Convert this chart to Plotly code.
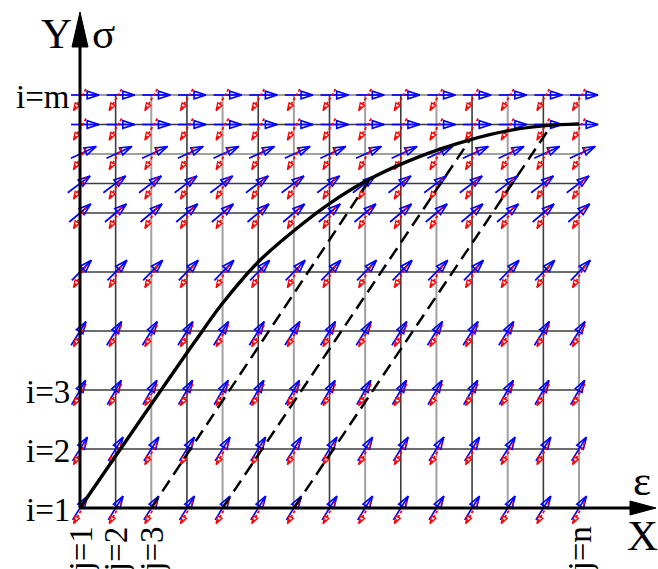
import math
import plotly.graph_objects as go

W, H = 658, 569

# ---------------- data ----------------
eps_cols = list(range(15))                      # j = 1 .. n
sigma_rows = [0, 1, 2, 3, 4, 5, 5.5, 6, 6.5, 7]  # i = 1 .. m
tangent_deg = [58, 58, 60, 58, 46, 40, 37, 25, 0, 0]   # blue arrow direction per row

curve_eps = [0, 3.2, 4.0, 5.0, 6.0, 7.0, 8.14, 9.54, 10.94, 12.06, 13.07, 14.0]
curve_sig = [0, 2.80, 3.47, 4.17, 4.70, 5.16, 5.58, 5.96, 6.24, 6.40, 6.48, 6.51]

unload_eps0 = [2, 4, 6]
unload_eps1 = [8.14, 10.94, 13.23]
unload_sig1 = [5.58, 6.24, 6.49]

i_labels = ["i=1", "i=2", "i=3", "i=m"]
i_label_rows = [0, 1, 2, 7]
j_labels = ["j=1", "j=2", "j=3", "j=n"]
j_label_cols = [0, 1, 2, 14]

# ---------------- layout constants ----------------
OX, OY = 80.0, 508.0          # origin in pixels
PX_X, PX_Y = 35.643, 59.0     # pixels per data unit
XR = [-OX / PX_X, (W - OX) / PX_X]
YR = [-(H - OY) / PX_Y, OY / PX_Y]


def dx(p):
    return p / PX_X


def dy(p):
    return p / PX_Y


def px_to_data(px, py):
    return (px - OX) / PX_X, (OY - py) / PX_Y


BLUE = "#0000ff"
RED = "#ff0000"
DARK = "#3c3c3c"
GRAY = "#a0a0a0"
blue_back = [0.5, 0.5, 0.6, 0.6, 0.42, 0.5, 0.55, 0.36, 0.32, 0.32]
row_dark = [True, True, True, True, True, True, True, False, True, False]
BL = 28.0   # blue arrow length px
RL = 25.0   # red arrow length px
RED_DEG = 60.0

fig = go.Figure()

# ---------------- grid ----------------
top = sigma_rows[-1]
right = eps_cols[-1]
for dark in (False, True):
    xs, ys = [], []
    for c in eps_cols[1:]:
        if (c % 2 == 1) == dark:
            xs += [c, c, None]
            ys += [0, top, None]
    for r, d in zip(sigma_rows[1:], row_dark[1:]):
        if d == dark:
            xs += [0, right, None]
            ys += [r, r, None]
    fig.add_trace(go.Scatter(x=xs, y=ys, mode="lines",
                             line=dict(color=DARK if dark else GRAY, width=1.6 if dark else 2),
                             hoverinfo="skip"))

# ---------------- blue arrows ----------------
bx, by, hx, hy, ha = [], [], [], [], []
for r, deg, a in zip(sigma_rows, tangent_deg, blue_back):
    ux, uy = math.cos(math.radians(deg)), math.sin(math.radians(deg))
    for c in eps_cols:
        x0, y0 = c - dx(a * BL * ux), r - dy(a * BL * uy)
        x1, y1 = c + dx((1 - a) * BL * ux), r + dy((1 - a) * BL * uy)
        bx += [x0, x1, None]
        by += [y0, y1, None]
        hx.append(x1)
        hy.append(y1)
        ha.append(90 - deg)
fig.add_trace(go.Scatter(x=bx, y=by, mode="lines", line=dict(color=BLUE, width=1.7),
                         hoverinfo="skip"))
fig.add_trace(go.Scatter(x=hx, y=hy, mode="markers",
                         marker=dict(symbol="arrow-open", size=12.5, angle=ha, color=BLUE,
                                     line=dict(color=BLUE, width=1.6)),
                         hoverinfo="skip"))

# ---------------- red dashed arrows ----------------
rx, ry, rhx, rhy = [], [], [], []
ux, uy = math.cos(math.radians(RED_DEG)), math.sin(math.radians(RED_DEG))
for r in sigma_rows:
    for c in eps_cols:
        x0, y0 = c + dx(6), r + dy(6)
        x1, y1 = x0 - dx(RL * ux), y0 - dy(RL * uy)
        rx += [x0, x1, None]
        ry += [y0, y1, None]
        rhx.append(x1)
        rhy.append(y1)
fig.add_trace(go.Scatter(x=rx, y=ry, mode="lines",
                         line=dict(color=RED, width=1.7, dash="3px,2px"), hoverinfo="skip"))
fig.add_trace(go.Scatter(x=rhx, y=rhy, mode="markers",
                         marker=dict(symbol="arrow-open", size=8, angle=90 - (180 + RED_DEG),
                                     color=RED, line=dict(color=RED, width=1.3)),
                         hoverinfo="skip"))

# ---------------- unloading lines ----------------
ux_, uy_ = [], []
for e0, e1, s1 in zip(unload_eps0, unload_eps1, unload_sig1):
    ux_ += [e0, e1, None]
    uy_ += [0, s1, None]
fig.add_trace(go.Scatter(x=ux_, y=uy_, mode="lines",
                         line=dict(color="black", width=2.5, dash="13px,7px"), hoverinfo="skip"))

# ---------------- loading curve ----------------
fig.add_trace(go.Scatter(x=curve_eps, y=curve_sig, mode="lines",
                         line=dict(color="black", width=3.4, shape="spline", smoothing=1.0),
                         hoverinfo="skip"))

# ---------------- axes with arrows ----------------
ytip = px_to_data(OX, 12)[1]
ybase = px_to_data(OX, 47)[1]
xtip = px_to_data(656, OY)[0]
xbase = px_to_data(630, OY)[0]
fig.add_trace(go.Scatter(x=[0, 0, None, 0, xbase], y=[0, ybase, None, 0, 0], mode="lines",
                         line=dict(color="black", width=3), hoverinfo="skip"))
fig.add_trace(go.Scatter(x=[-dx(8), dx(8), 0, -dx(8)], y=[ybase, ybase, ytip, ybase],
                         mode="lines", fill="toself", fillcolor="black",
                         line=dict(color="black", width=1), hoverinfo="skip"))
fig.add_trace(go.Scatter(x=[xbase, xbase, xtip, xbase], y=[dy(7), -dy(7), 0, dy(7)],
                         mode="lines", fill="toself", fillcolor="black",
                         line=dict(color="black", width=1), hoverinfo="skip"))

# ---------------- text ----------------
FONT = "Liberation Serif"
ann = []
for t, r in zip(i_labels, i_label_rows):
    ann.append(dict(x=px_to_data(72, 0)[0], y=r, text=t, xanchor="right", yanchor="middle",
                    yshift=-2, showarrow=False, font=dict(family=FONT, size=33, color="black")))
for t, c in zip(j_labels, j_label_cols):
    ann.append(dict(x=c, y=px_to_data(0, 525)[1], text=t, textangle=-90, xanchor="center",
                    yanchor="top", showarrow=False, font=dict(family=FONT, size=33, color="black")))
for t, (px, py) in zip(["Y", "σ", "ε", "X"], [(56, 33), (103, 33), (642, 480), (642, 535)]):
    x, y = px_to_data(px, py)
    ann.append(dict(x=x, y=y, text=t, xanchor="center", yanchor="middle", showarrow=False,
                    font=dict(family=FONT, size=43, color="black")))

fig.update_layout(
    width=W, height=H, margin=dict(l=0, r=0, t=0, b=0),
    paper_bgcolor="white", plot_bgcolor="white", showlegend=False,
    xaxis=dict(range=XR, visible=False, fixedrange=True),
    yaxis=dict(range=YR, visible=False, fixedrange=True),
    annotations=ann,
)
fig.write_html("out.html")
